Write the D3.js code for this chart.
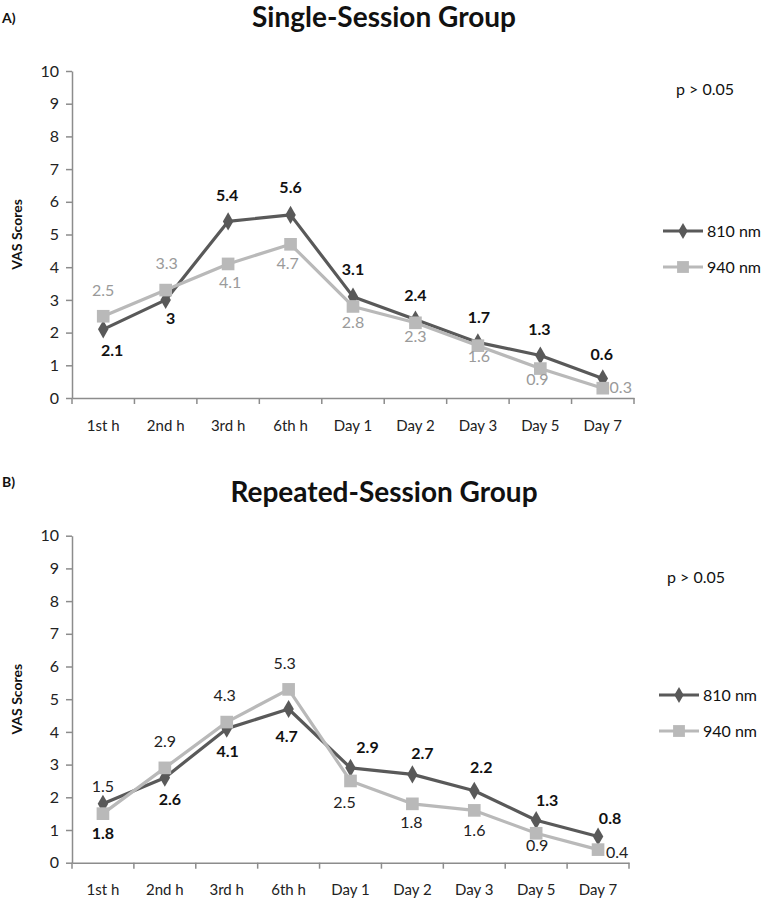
<!DOCTYPE html>
<html>
<head>
<meta charset="utf-8">
<script src="https://cdn.jsdelivr.net/npm/d3@7"></script>
<style>
  html, body { margin: 0; padding: 0; background: #fff; }
  svg { display: block; }
</style>
</head>
<body>
<svg id="chart" width="768" height="906"></svg>
<script>
// ---------- DATA ----------
const categories = ["1st h", "2nd h", "3rd h", "6th h", "Day 1", "Day 2", "Day 3", "Day 5", "Day 7"];
const seriesNames = ["810 nm", "940 nm"];
const yTicks = [0, 1, 2, 3, 4, 5, 6, 7, 8, 9, 10];

const singleSession810 = [2.1, 3, 5.4, 5.6, 3.1, 2.4, 1.7, 1.3, 0.6];
const singleSession940 = [2.5, 3.3, 4.1, 4.7, 2.8, 2.3, 1.6, 0.9, 0.3];
const repeatedSession810 = [1.8, 2.6, 4.1, 4.7, 2.9, 2.7, 2.2, 1.3, 0.8];
const repeatedSession940 = [1.5, 2.9, 4.3, 5.3, 2.5, 1.8, 1.6, 0.9, 0.4];

const panelTitles = ["Single-Session Group", "Repeated-Session Group"];
const panelLetters = ["A)", "B)"];
const pValueText = "p > 0.05";
const yAxisTitle = "VAS Scores";

// ---------- LABEL PLACEMENT (offset of label centre from its point) ----------
const singleOffsets810 = [[9, 21], [5, 18], [-1, -26], [0, -27], [0, -27], [0, -24], [1, -25], [-1, -26], [-1, -24]];
const singleOffsets940 = [[0, -26], [1, -27], [2, 18], [-3, 19], [0, 16], [0, 14], [1, 11], [-3, 11], [18, -1]];
const repeatedOffsets810 = [[0, 30], [5, 22], [1, 23], [-2, 27], [17, -20], [10, -21], [7, -23], [11, -20], [12, -18]];
const repeatedOffsets940 = [[0, -27], [0, -26], [-2, -27], [-4, -26], [-6, 21], [-1, 19], [0, 20], [1, 12], [19, 3]];

// ---------- STYLE ----------
const FONT = "Lato, 'Open Sans', 'DejaVu Sans', sans-serif";
const dark = "#595959";
const light = "#b9b9b9";
const axisColor = "#8c8c8c";

const svg = d3.select("#chart");

function drawPanel(cfg) {
  const g = svg.append("g");
  const x = d3.scaleBand().domain(categories).range([cfg.left, cfg.right]);
  const y = d3.scaleLinear().domain([0, 10]).range([cfg.bottom, cfg.top]);

  // Letter and title
  g.append("text").attr("x", 2).attr("y", cfg.letterY)
    .attr("font-family", FONT).attr("font-weight", "bold").attr("font-size", 14)
    .attr("fill", "#111").text(cfg.letter);
  g.append("text").attr("x", 384).attr("y", cfg.titleY).attr("text-anchor", "middle")
    .attr("font-family", FONT).attr("font-weight", "bold").attr("font-size", 28)
    .attr("fill", "#111").text(cfg.title);

  // Y axis
  const yAxis = g.append("g").attr("transform", `translate(${cfg.left},0)`)
    .call(d3.axisLeft(y).tickValues(yTicks).tickSize(6).tickSizeOuter(0).tickPadding(7).tickFormat(d3.format("d")));
  yAxis.select(".domain").attr("stroke", axisColor).attr("stroke-width", 1.5);
  yAxis.selectAll(".tick line").attr("stroke", axisColor).attr("stroke-width", 1.5);
  yAxis.selectAll(".tick text").attr("font-family", FONT).attr("font-size", 16).attr("fill", "#222");

  // X axis line with boundary ticks
  const xAxis = g.append("g").attr("transform", `translate(0,${cfg.bottom})`)
    .call(d3.axisBottom(x).tickSize(0).tickPadding(22));
  xAxis.select(".domain").attr("stroke", axisColor).attr("stroke-width", 1.5);
  xAxis.selectAll(".tick text").attr("font-family", FONT).attr("font-size", 15).attr("fill", "#222");
  const boundaries = categories.map(c => x(c)).concat([x(categories[categories.length - 1]) + x.bandwidth()]);
  g.selectAll(".xb").data(boundaries).enter().append("line")
    .attr("x1", d => d).attr("x2", d => d)
    .attr("y1", cfg.bottom).attr("y2", cfg.bottom + 6)
    .attr("stroke", axisColor).attr("stroke-width", 1.5);

  // Y axis title
  g.append("text")
    .attr("transform", `translate(22,${(cfg.top + cfg.bottom) / 2}) rotate(-90)`)
    .attr("text-anchor", "middle")
    .attr("font-family", FONT).attr("font-weight", "bold").attr("font-size", 14)
    .attr("fill", "#111").text(yAxisTitle);

  const cx = c => x(c) + x.bandwidth() / 2;
  const line = d3.line().x((d, i) => cx(categories[i])).y(d => y(d));

  const series = [
    { values: cfg.v810, offsets: cfg.o810, color: dark, shape: d3.symbolDiamond, size: 95, labelColor: "#111", weight: "bold" },
    { values: cfg.v940, offsets: cfg.o940, color: light, shape: d3.symbolSquare, size: 160, labelColor: cfg.label940Color, weight: "normal" }
  ];

  series.forEach(s => {
    g.append("path").datum(s.values).attr("d", line)
      .attr("fill", "none").attr("stroke", s.color).attr("stroke-width", 3.2)
      .attr("stroke-linejoin", "round");
    g.selectAll(null).data(s.values).enter().append("path")
      .attr("d", d3.symbol().type(s.shape).size(s.size))
      .attr("transform", (d, i) => `translate(${cx(categories[i])},${y(d)})`)
      .attr("fill", s.color);
  });

  series.forEach(s => {
    g.selectAll(null).data(s.values).enter().append("text")
      .attr("x", (d, i) => cx(categories[i]) + s.offsets[i][0])
      .attr("y", (d, i) => y(d) + s.offsets[i][1])
      .attr("dy", "0.35em")
      .attr("text-anchor", "middle")
      .attr("font-family", FONT).attr("font-size", 16).attr("font-weight", s.weight)
      .attr("fill", s.labelColor)
      .text(d => d);
  });

  // p-value
  g.append("text").attr("x", cfg.pX).attr("y", cfg.pY).attr("dy", "0.35em")
    .attr("font-family", FONT).attr("font-size", 16).attr("fill", "#111").text(pValueText);

  // Legend
  const legend = [
    { name: seriesNames[0], color: dark, shape: d3.symbolDiamond, size: 75, y: cfg.legY[0] },
    { name: seriesNames[1], color: light, shape: d3.symbolSquare, size: 140, y: cfg.legY[1] }
  ];
  legend.forEach(l => {
    g.append("line").attr("x1", cfg.legX).attr("x2", cfg.legX + 40)
      .attr("y1", l.y).attr("y2", l.y).attr("stroke", l.color).attr("stroke-width", 3.2);
    g.append("path").attr("d", d3.symbol().type(l.shape).size(l.size)())
      .attr("transform", `translate(${cfg.legX + 20},${l.y})`).attr("fill", l.color);
    g.append("text").attr("x", cfg.legX + 44).attr("y", l.y).attr("dy", "0.35em")
      .attr("font-family", FONT).attr("font-size", 16).attr("fill", "#111").text(l.name);
  });
}

drawPanel({
  letter: panelLetters[0], title: panelTitles[0],
  letterY: 23, titleY: 27,
  left: 72, right: 634, top: 71, bottom: 398,
  v810: singleSession810, v940: singleSession940,
  o810: singleOffsets810, o940: singleOffsets940,
  label940Color: "#9a9a9a",
  pX: 676, pY: 89,
  legX: 663, legY: [231, 267]
});

drawPanel({
  letter: panelLetters[1], title: panelTitles[1],
  letterY: 487, titleY: 502,
  left: 72, right: 629, top: 535.7, bottom: 862.7,
  v810: repeatedSession810, v940: repeatedSession940,
  o810: repeatedOffsets810, o940: repeatedOffsets940,
  label940Color: "#222",
  pX: 667, pY: 577,
  legX: 659, legY: [695, 731]
});
</script>
</body>
</html>
